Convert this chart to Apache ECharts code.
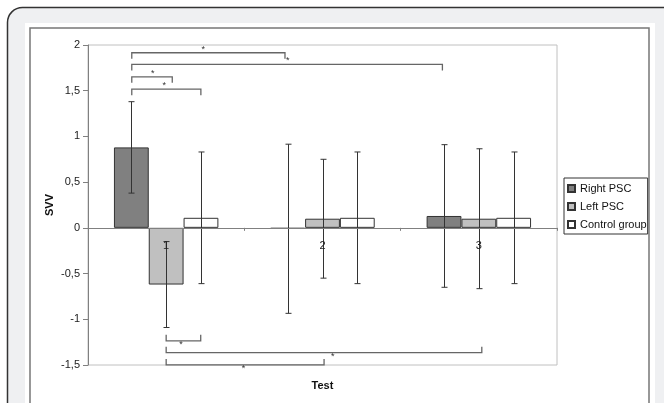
<!DOCTYPE html>
<html><head><meta charset="utf-8">
<script src="https://cdn.jsdelivr.net/npm/echarts@6/dist/echarts.min.js"></script>
<style>html,body{margin:0;padding:0;background:#fff}#c{width:664px;height:403px}</style>
</head><body><div id="c"></div>
<script>
const categories = ['1', '2', '3'];
const seriesNames = ['Right PSC', 'Left PSC', 'Control group'];
const rightPSC = [0.88, -0.01, 0.13];
const leftPSC = [-0.62, 0.10, 0.10];
const controlGroup = [0.11, 0.11, 0.11];
const rightPSCErr = [0.50, 0.925, 0.78];
const leftPSCErr = [0.47, 0.65, 0.765];
const controlErr = [0.72, 0.72, 0.72];
const yMin = -1.5, yMax = 2, yStep = 0.5;
// significance brackets: [xStart, xEnd, level, starX] (x in category units 0..3)
const topBrackets = [[0.28, 1.26, 1.915, 0.738], [0.28, 2.267, 1.788, 1.278], [0.28, 0.539, 1.652, 0.414], [0.28, 0.722, 1.517, 0.488]];
const bottomBrackets = [[0.5, 0.721, -1.236, 0.595], [0.5, 2.519, -1.365, 1.566], [0.5, 1.51, -1.499, 0.994]];

const GAP = 0.332;
const FONT = 'Liberation Sans, Arial, sans-serif';
const colors = ['#808080', '#c0c0c0', '#ffffff'];
const values = [rightPSC, leftPSC, controlGroup];
const errs = [rightPSCErr, leftPSCErr, controlErr];

const chart = echarts.init(document.getElementById('c'), null, {renderer: 'canvas'});

function errSeries(idx) {
  return {
    type: 'custom', xAxisIndex: 0, yAxisIndex: 0, z: 5, silent: true,
    data: values[idx].map((v, i) => [i, v - errs[idx][i], v + errs[idx][i]]),
    renderItem(params, api) {
      const c = api.value(0);
      const lo = api.coord([c, api.value(1)]);
      const hi = api.coord([c, api.value(2)]);
      const band = api.size([1, 0])[0];
      const bw = band * (1 - GAP) / 3;
      const x = Math.round(lo[0] + (idx - 1) * bw) + 0.5;
      const cap = 3;
      const st = {stroke: '#333', lineWidth: 1};
      return {type: 'group', children: [
        {type: 'line', shape: {x1: x, y1: lo[1], x2: x, y2: hi[1]}, style: st},
        {type: 'line', shape: {x1: x - cap, y1: lo[1], x2: x + cap, y2: lo[1]}, style: st},
        {type: 'line', shape: {x1: x - cap, y1: hi[1], x2: x + cap, y2: hi[1]}, style: st}
      ]};
    }
  };
}

function bracketSeries(list, dir) {
  return {
    type: 'custom', xAxisIndex: 1, yAxisIndex: 0, z: 6, silent: true,
    data: list,
    renderItem(params, api) {
      const a = api.coord([api.value(0), api.value(2)]);
      const b = api.coord([api.value(1), api.value(2)]);
      const s = api.coord([api.value(3), api.value(2)]);
      const t = 6 * dir;
      const st = {stroke: '#666', lineWidth: 1.3, fill: null};
      return {type: 'group', children: [
        {type: 'polyline', shape: {points: [[a[0], a[1] + t], [a[0], a[1]], [b[0], b[1]], [b[0], b[1] + t]]}, style: st},
        {type: 'text', style: {text: '*', x: s[0], y: dir > 0 ? s[1] + 1 : s[1] - 1, align: 'center',
          verticalAlign: dir > 0 ? 'bottom' : 'top', fontSize: 9, fontFamily: FONT, fill: '#333'}}
      ]};
    }
  };
}

// category labels placed just below the zero line
const catLabelSeries = {
  type: 'custom', xAxisIndex: 0, yAxisIndex: 0, z: 7, silent: true,
  data: categories.map((c, i) => [i, 0]),
  renderItem(params, api) {
    const p = api.coord([api.value(0), api.value(1)]);
    return {type: 'text', style: {text: categories[params.dataIndex], x: p[0], y: p[1] + 18,
      align: 'center', verticalAlign: 'middle', fontSize: 11, fontFamily: FONT, fill: '#222'}};
  }
};

const option = {
  animation: false,
  backgroundColor: '#fff',
  graphic: [
    {type: 'rect', z: -10, shape: {x: 7.5, y: 7.5, width: 700, height: 430, r: 15}, style: {fill: '#eff0f2', stroke: '#333', lineWidth: 1.5}},
    {type: 'rect', z: -9, shape: {x: 25, y: 23, width: 630, height: 400}, style: {fill: '#fff'}},
    {type: 'rect', z: -8, shape: {x: 30, y: 28, width: 619, height: 400}, style: {fill: '#fff', stroke: '#777', lineWidth: 1.5}}
  ],
  grid: {left: 88, top: 45, width: 469, height: 320, show: true, borderColor: '#c0c0c0', borderWidth: 1, backgroundColor: '#fff'},
  legend: {
    orient: 'vertical', left: 564, top: 178, padding: [5, 1, 4, 3],
    itemWidth: 7, itemHeight: 7, itemGap: 7,
    borderColor: '#333', borderWidth: 1, backgroundColor: '#fff',
    textStyle: {fontSize: 11, color: '#111', fontFamily: FONT},
    data: seriesNames.map(n => ({name: n, icon: 'rect'}))
  },
  xAxis: [
    {
      type: 'category', data: categories, z: 10,
      axisLine: {onZero: true, lineStyle: {color: '#808080', width: 1}},
      axisTick: {show: true, length: 3, lineStyle: {color: '#808080'}},
      axisLabel: {show: false},
      splitLine: {show: false}
    },
    {
      type: 'value', min: 0, max: 3, position: 'bottom', show: true,
      axisLine: {show: false}, axisTick: {show: false}, axisLabel: {show: false}, splitLine: {show: false},
      name: 'Test', nameLocation: 'middle', nameGap: 15,
      nameTextStyle: {fontWeight: 'bold', fontSize: 11, color: '#111', fontFamily: FONT}
    }
  ],
  yAxis: {
    type: 'value', min: yMin, max: yMax, interval: yStep,
    axisLine: {show: true, lineStyle: {color: '#808080'}},
    axisTick: {show: true, length: 5, lineStyle: {color: '#808080'}},
    axisLabel: {margin: 8, fontSize: 11, color: '#222', fontFamily: FONT,
      formatter: v => String(v).replace('.', ',')},
    splitLine: {show: false},
    name: 'SVV', nameLocation: 'middle', nameGap: 33, nameRotate: 90, nameMoveOverlap: false,
    nameTextStyle: {fontWeight: 'bold', fontSize: 11, color: '#111', fontFamily: FONT}
  },
  series: [
    ...seriesNames.map((n, i) => ({
      name: n, type: 'bar', xAxisIndex: 0, data: values[i],
      barGap: '0%', barCategoryGap: (GAP * 100) + '%',
      itemStyle: {color: colors[i], borderColor: '#333', borderWidth: 1}
    })),
    errSeries(0), errSeries(1), errSeries(2),
    bracketSeries(topBrackets, 1),
    bracketSeries(bottomBrackets, -1),
    catLabelSeries
  ]
};
chart.setOption(option);
</script>
</body></html>
